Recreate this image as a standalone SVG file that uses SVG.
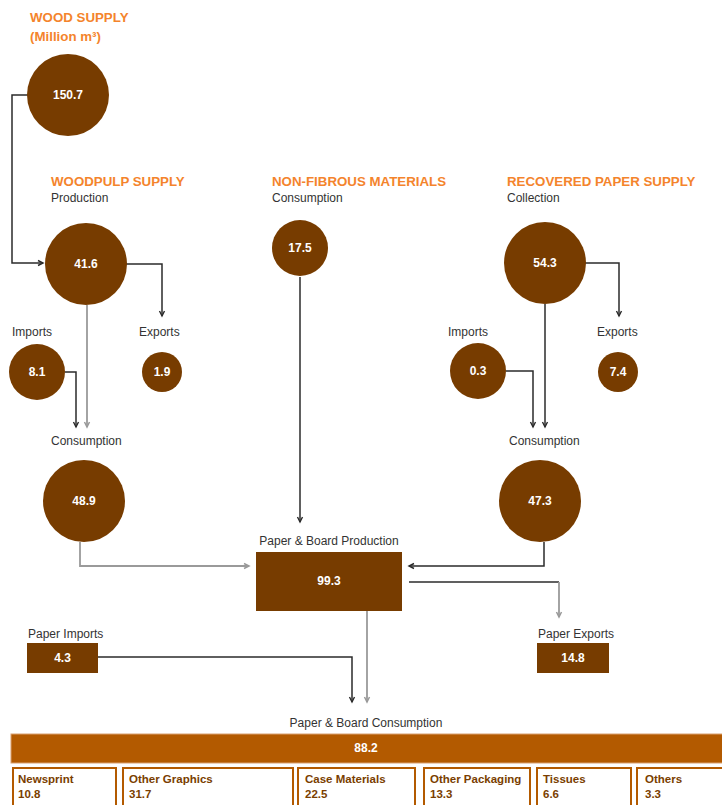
<svg xmlns="http://www.w3.org/2000/svg" width="722" height="805" viewBox="0 0 722 805">
<defs>
<style>
.t{font-family:"Liberation Sans",Arial,sans-serif;font-size:13.3px;font-weight:bold;fill:#F4842C}
.l{font-family:"Liberation Sans",Arial,sans-serif;font-size:12px;fill:#333}
.v{font-family:"Liberation Sans",Arial,sans-serif;font-size:12px;font-weight:bold;fill:#fff;text-anchor:middle}
.b{font-family:"Liberation Sans",Arial,sans-serif;font-size:11.5px;font-weight:bold;fill:#7A3E00}
.n{fill:#773C00}
.d{fill:none;stroke:#2b2b2b;stroke-width:1.5}
.g{fill:none;stroke:#9a9a9a;stroke-width:1.8}
.cat{fill:#fff;stroke:#B35A00;stroke-width:2}
</style>
<marker id="ad" markerWidth="8" markerHeight="8" refX="6" refY="4" orient="auto" markerUnits="userSpaceOnUse">
<path d="M1,1.5 L6,4 L1,6.5" fill="none" stroke="#2b2b2b" stroke-width="1.4"/>
</marker>
<marker id="ag" markerWidth="8" markerHeight="8" refX="6" refY="4" orient="auto" markerUnits="userSpaceOnUse">
<path d="M1,1.5 L6,4 L1,6.5" fill="none" stroke="#9a9a9a" stroke-width="1.5"/>
</marker>
</defs>
<rect width="722" height="805" fill="#fff"/>

<g id="connectors">
<path class="d" d="M28,95 H12 V263 H43" marker-end="url(#ad)"/>
<path class="d" d="M125,264 H162 V316" marker-end="url(#ad)"/>
<path class="g" d="M87,305 V427" marker-end="url(#ag)"/>
<path class="d" d="M65,372 H76 V427" marker-end="url(#ad)"/>
<path class="g" d="M80,542 V566 H249" marker-end="url(#ag)"/>
<path class="d" d="M300,277 V522" marker-end="url(#ad)"/>
<path class="d" d="M584,263 H619 V316" marker-end="url(#ad)"/>
<path class="d" d="M545,304 V427" marker-end="url(#ad)"/>
<path class="d" d="M506,371 H533 V427" marker-end="url(#ad)"/>
<path class="d" d="M544,542 V566 H409" marker-end="url(#ad)"/>
<path class="d" d="M409,582 H559"/>
<path class="g" d="M559,582 V617" marker-end="url(#ag)"/>
<path class="d" d="M98,657 H352 V702" marker-end="url(#ad)"/>
<path class="g" d="M367,611 V702" marker-end="url(#ag)"/>
</g>

<g id="wood-supply">
<text class="t" x="30" y="22">WOOD SUPPLY</text>
<text class="t" x="30" y="41">(Million m³)</text>
<circle class="n" cx="68" cy="95" r="41"/>
<text class="v" x="68" y="99">150.7</text>
</g>

<g id="woodpulp-production">
<text class="t" x="51" y="186">WOODPULP SUPPLY</text>
<text class="l" x="51" y="202">Production</text>
<circle class="n" cx="86" cy="264" r="41"/>
<text class="v" x="86" y="268">41.6</text>
</g>

<g id="woodpulp-imports">
<text class="l" x="12" y="336">Imports</text>
<circle class="n" cx="37" cy="372" r="28"/>
<text class="v" x="37" y="376">8.1</text>
</g>

<g id="woodpulp-exports">
<text class="l" x="139" y="336">Exports</text>
<circle class="n" cx="162" cy="372" r="20"/>
<text class="v" x="162" y="376">1.9</text>
</g>

<g id="woodpulp-consumption">
<text class="l" x="51" y="445">Consumption</text>
<circle class="n" cx="84" cy="501" r="41"/>
<text class="v" x="84" y="505">48.9</text>
</g>

<g id="non-fibrous">
<text class="t" x="272" y="186">NON-FIBROUS MATERIALS</text>
<text class="l" x="272" y="202">Consumption</text>
<circle class="n" cx="300" cy="248" r="28"/>
<text class="v" x="300" y="252">17.5</text>
</g>

<g id="recovered-collection">
<text class="t" x="507" y="186">RECOVERED PAPER SUPPLY</text>
<text class="l" x="507" y="202">Collection</text>
<circle class="n" cx="545" cy="263" r="41"/>
<text class="v" x="545" y="267">54.3</text>
</g>

<g id="recovered-imports">
<text class="l" x="448" y="336">Imports</text>
<circle class="n" cx="478" cy="371" r="28"/>
<text class="v" x="478" y="375">0.3</text>
</g>

<g id="recovered-exports">
<text class="l" x="597" y="336">Exports</text>
<circle class="n" cx="618" cy="372" r="20"/>
<text class="v" x="618" y="376">7.4</text>
</g>

<g id="recovered-consumption">
<text class="l" x="509" y="445">Consumption</text>
<circle class="n" cx="540" cy="501" r="41"/>
<text class="v" x="540" y="505">47.3</text>
</g>

<g id="paper-production">
<text class="l" x="329" y="545" text-anchor="middle">Paper &amp; Board Production</text>
<rect class="n" x="256" y="552" width="146" height="59"/>
<text class="v" x="329" y="585">99.3</text>
</g>

<g id="paper-imports">
<text class="l" x="28" y="638">Paper Imports</text>
<rect class="n" x="27" y="643" width="71" height="30"/>
<text class="v" x="62.5" y="662">4.3</text>
</g>

<g id="paper-exports">
<text class="l" x="538" y="638">Paper Exports</text>
<rect class="n" x="537" y="643" width="72" height="30"/>
<text class="v" x="573" y="662">14.8</text>
</g>

<g id="paper-consumption">
<text class="l" x="366" y="727" text-anchor="middle">Paper &amp; Board Consumption</text>
<rect x="11" y="734" width="713" height="29" fill="#B35A00" stroke="#D9A070" stroke-width="1"/>
<text class="v" x="366" y="752">88.2</text>
</g>

<g id="newsprint">
<rect class="cat" x="13" y="768" width="103" height="45"/>
<text class="b" x="18" y="783">Newsprint</text>
<text class="b" x="18" y="798">10.8</text>
</g>
<g id="other-graphics">
<rect class="cat" x="123" y="768" width="170" height="45"/>
<text class="b" x="129" y="783">Other Graphics</text>
<text class="b" x="129" y="798">31.7</text>
</g>
<g id="case-materials">
<rect class="cat" x="298" y="768" width="117" height="45"/>
<text class="b" x="305" y="783">Case Materials</text>
<text class="b" x="305" y="798">22.5</text>
</g>
<g id="other-packaging">
<rect class="cat" x="424" y="768" width="106" height="45"/>
<text class="b" x="430" y="783">Other Packaging</text>
<text class="b" x="430" y="798">13.3</text>
</g>
<g id="tissues">
<rect class="cat" x="537" y="768" width="94" height="45"/>
<text class="b" x="543" y="783">Tissues</text>
<text class="b" x="543" y="798">6.6</text>
</g>
<g id="others">
<rect class="cat" x="637" y="768" width="90" height="45"/>
<text class="b" x="645" y="783">Others</text>
<text class="b" x="645" y="798">3.3</text>
</g>
</svg>
